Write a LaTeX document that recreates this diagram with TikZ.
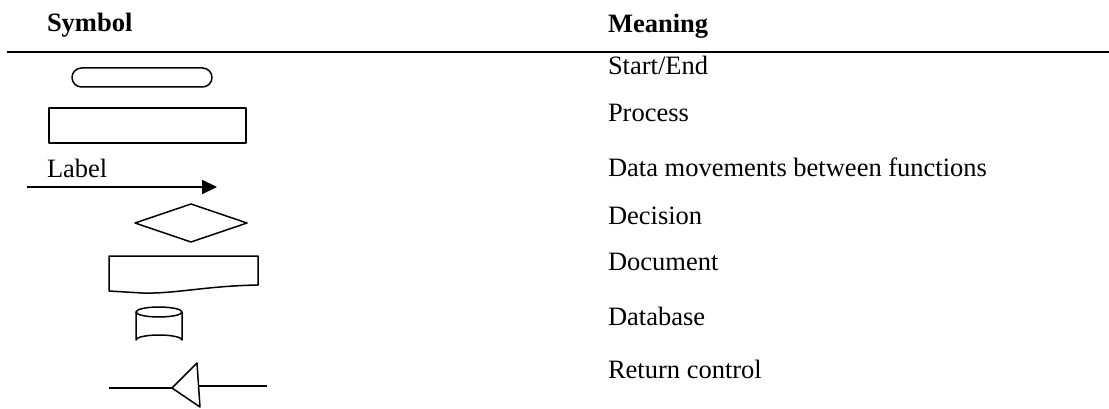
\documentclass[tikz,border=0pt]{standalone}
\usepackage{fontspec}
\setmainfont{Liberation Serif}
\usetikzlibrary{arrows.meta}

\begin{document}
\begin{tikzpicture}[x=1pt,y=-1pt,
  every node/.style={inner sep=0pt,outer sep=0pt,anchor=base west,
    font=\fontsize{26.5}{30}\selectfont},
  head/.style={font=\fontsize{26.5}{30}\selectfont\bfseries},
  sym/.style={line width=1.5pt,line join=round},
  flow/.style={line width=2.2pt,-{Triangle[length=15pt,width=14pt]}}]
\useasboundingbox (0,0) rectangle (1109,409);

% column headings and rule
\node[head] (hsym) at (47,32) {Symbol};
\node[head] (hmean) at (608,33) {Meaning};
\coordinate (ruleL) at (7,52);
\coordinate (ruleR) at (1109,52);
\draw[line width=2pt] (ruleL) -- (ruleR);

% meanings
\node (tStart) at (608,75) {Start/End};
\node (tProc) at (608,122) {Process};
\node (tData) at (608,177) {Data movements between functions};
\node (tDec) at (608,224) {Decision};
\node (tDoc) at (608,270) {Document};
\node (tDb) at (608,325) {Database};
\node (tRet) at (608,378) {Return control};

% start/end terminator
\draw[sym,rounded corners=9.5pt] (72,68) rectangle (212,87);

% process box
\draw[sym] (49,108) rectangle (246,143);

% labelled data flow
\node (lbl) at (47,178) {Label};
\coordinate (flowA) at (27,187);
\coordinate (flowB) at (217,187);
\draw[flow] (flowA) -- (flowB);

% decision diamond
\draw[sym] (135,223) -- (191,204) -- (247,223) -- (191,242) -- cycle;

% document
\draw[sym] (109,291) -- (109,256) -- (258,256) -- (258,285)
  .. controls (205,286) and (175,294) .. (142,293)
  .. controls (125,292.5) .. (109,291);

% database cylinder
\draw[sym] (159,312) ellipse [x radius=23,y radius=5];
\draw[sym] (136,312) -- (136,340)
  arc [start angle=180,end angle=360,x radius=23,y radius=5] -- (182,312);

% return control
\coordinate (retL) at (109,388);
\coordinate (retTip) at (172,388);
\coordinate (retR) at (267,386);
\coordinate (retIn) at (199,386);
\draw[sym] (retL) -- (retTip);
\draw[sym] (retTip) -- (197,363) -- (200,407) -- cycle;
\draw[sym] (retIn) -- (retR);
\end{tikzpicture}
\end{document}
